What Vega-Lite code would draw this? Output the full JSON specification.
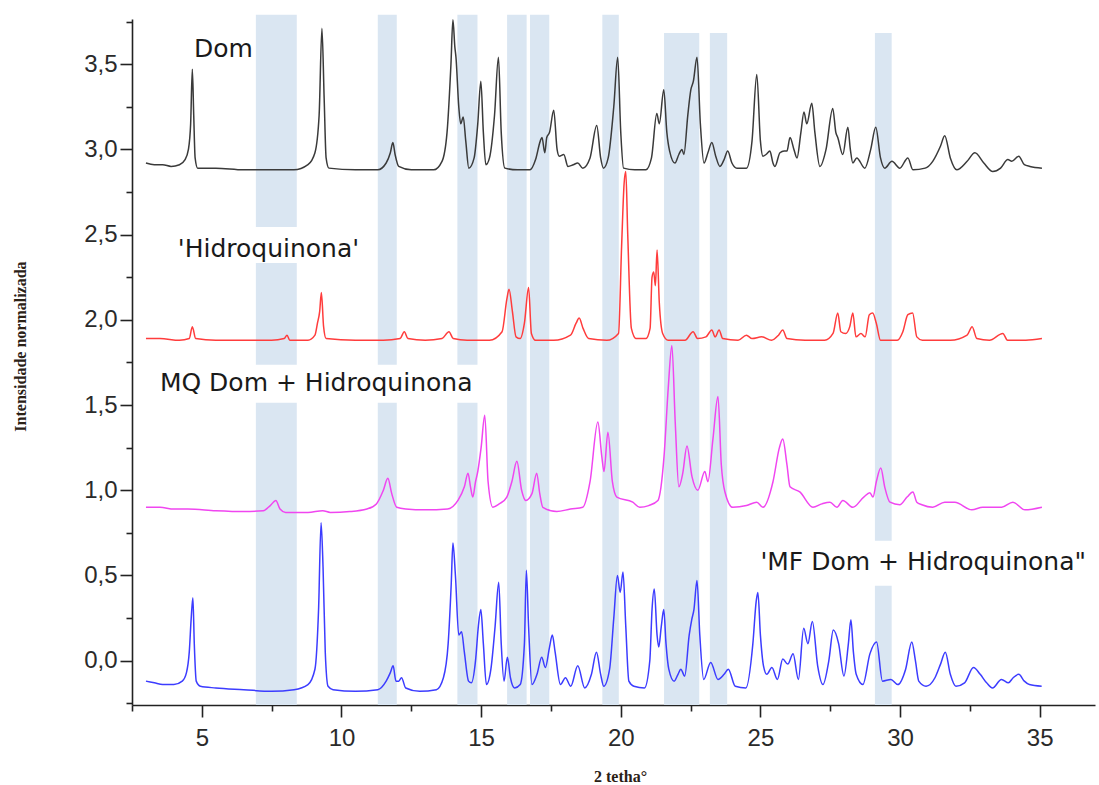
{
"$schema":"https://vega.github.io/schema/vega-lite/v6.json",
"width":963,"height":686,
"autosize":{"type":"none"},
"padding":{"left":132,"top":19,"right":4,"bottom":80},
"background":"white",
"config":{"view":{"stroke":null}},
"layer":[
{"data":{"values":[
{"x":6.935,"x2":8.40,"y":2.545,"y2":3.79},
{"x":6.935,"x2":8.40,"y":1.736,"y2":2.334},
{"x":6.935,"x2":8.40,"y":-0.26,"y2":1.513},
{"x":11.30,"x2":11.98,"y":1.736,"y2":3.79},
{"x":11.30,"x2":11.98,"y":-0.26,"y2":1.513},
{"x":14.15,"x2":14.87,"y":1.736,"y2":3.79},
{"x":14.15,"x2":14.87,"y":-0.26,"y2":1.513},
{"x":15.93,"x2":16.63,"y":-0.26,"y2":3.79},
{"x":16.75,"x2":17.44,"y":-0.26,"y2":3.79},
{"x":19.34,"x2":19.93,"y":-0.26,"y2":3.79},
{"x":21.55,"x2":22.81,"y":-0.26,"y2":3.683},
{"x":23.19,"x2":23.81,"y":-0.26,"y2":3.683},
{"x":29.10,"x2":29.70,"y":0.704,"y2":3.683},
{"x":29.10,"x2":29.70,"y":-0.26,"y2":0.44}
]},
"mark":{"type":"rect","color":"#dae6f2","opacity":1},
"encoding":{
"x":{"field":"x","type":"quantitative","scale":{"domain":[2.5,36.98],"nice":false,"zero":false},
"axis":{"title":"2 tetha°","values":[2.5,5,7.5,10,12.5,15,17.5,20,22.5,25,27.5,30,32.5,35],
"labelExpr":"datum.value % 5 == 0 ? format(datum.value,'d') : ''",
"tickSize":{"condition":{"test":"datum.value % 5 == 0","value":12},"value":6},
"grid":false,"domainColor":"#222222","domainWidth":1.6,"tickColor":"#222222","tickWidth":1.6,
"labelFont":"Liberation Sans","labelFontSize":24,"labelColor":"#2a2a2a","labelPadding":9,"labelFlush":false,"labelOverlap":false,
"titleFont":"Liberation Serif","titleFontWeight":"bold","titleFontSize":16,"titleColor":"#2b2116",
"titleX":488,"titleY":76,"titleBaseline":"alphabetic","titleAlign":"center"}},
"x2":{"field":"x2"},
"y":{"field":"y","type":"quantitative","scale":{"domain":[-0.26,3.765],"nice":false,"zero":false},
"axis":{"title":"Intensidade normalizada","values":[-0.25,0,0.25,0.5,0.75,1,1.25,1.5,1.75,2,2.25,2.5,2.75,3,3.25,3.5,3.75],
"labelExpr":"abs(datum.value*2 - round(datum.value*2)) < 0.01 ? replace(format(datum.value,'.1f'),'.',',') : ''",
"tickSize":{"condition":{"test":"abs(datum.value*2 - round(datum.value*2)) < 0.01","value":12},"value":6},
"grid":false,"domainColor":"#222222","domainWidth":1.6,"tickColor":"#222222","tickWidth":1.6,
"labelFont":"Liberation Sans","labelFontSize":24,"labelColor":"#2a2a2a","labelPadding":3,"labelFlush":false,"labelOverlap":false,
"titleFont":"Liberation Serif","titleFontWeight":"bold","titleFontSize":16,"titleColor":"#2b2116",
"titleX":-112,"titleY":327,"titleAngle":270,"titleBaseline":"middle","titleAlign":"center"}},
"y2":{"field":"y2"}
}},
{"data":{"values":[
{"s":"Dom","x":3.00,"y":2.92},{"s":"Dom","x":3.3,"y":2.91},{"s":"Dom","x":3.6,"y":2.91},{"s":"Dom","x":3.9,"y":2.90},{"s":"Dom","x":4.2,"y":2.91},{"s":"Dom","x":4.4,"y":2.94},{"s":"Dom","x":4.52,"y":3.00},{"s":"Dom","x":4.60,"y":3.15},{"s":"Dom","x":4.66,"y":3.47},{"s":"Dom","x":4.71,"y":3.20},{"s":"Dom","x":4.76,"y":2.95},{"s":"Dom","x":4.85,"y":2.89},{"s":"Dom","x":5.5,"y":2.89},{"s":"Dom","x":6.5,"y":2.88},{"s":"Dom","x":7.5,"y":2.88},{"s":"Dom","x":8.3,"y":2.88},{"s":"Dom","x":8.8,"y":2.91},{"s":"Dom","x":9.05,"y":2.98},{"s":"Dom","x":9.20,"y":3.20},{"s":"Dom","x":9.30,"y":3.71},{"s":"Dom","x":9.38,"y":3.30},{"s":"Dom","x":9.45,"y":2.95},{"s":"Dom","x":9.55,"y":2.89},{"s":"Dom","x":10.5,"y":2.88},{"s":"Dom","x":11.3,"y":2.88},{"s":"Dom","x":11.6,"y":2.92},{"s":"Dom","x":11.75,"y":2.98},{"s":"Dom","x":11.84,"y":3.04},{"s":"Dom","x":11.92,"y":2.97},{"s":"Dom","x":12.05,"y":2.90},{"s":"Dom","x":12.5,"y":2.88},{"s":"Dom","x":13.3,"y":2.88},{"s":"Dom","x":13.6,"y":2.93},{"s":"Dom","x":13.78,"y":3.10},{"s":"Dom","x":13.92,"y":3.50},{"s":"Dom","x":13.99,"y":3.76},{"s":"Dom","x":14.06,"y":3.60},{"s":"Dom","x":14.10,"y":3.54},{"s":"Dom","x":14.20,"y":3.25},{"s":"Dom","x":14.27,"y":3.15},{"s":"Dom","x":14.36,"y":3.19},{"s":"Dom","x":14.45,"y":3.05},{"s":"Dom","x":14.56,"y":2.89},{"s":"Dom","x":14.75,"y":2.95},{"s":"Dom","x":14.88,"y":3.15},{"s":"Dom","x":14.99,"y":3.40},{"s":"Dom","x":15.08,"y":3.10},{"s":"Dom","x":15.17,"y":2.91},{"s":"Dom","x":15.30,"y":2.95},{"s":"Dom","x":15.48,"y":3.20},{"s":"Dom","x":15.62,"y":3.54},{"s":"Dom","x":15.72,"y":3.10},{"s":"Dom","x":15.85,"y":2.89},{"s":"Dom","x":16.3,"y":2.88},{"s":"Dom","x":16.75,"y":2.88},{"s":"Dom","x":16.95,"y":2.94},{"s":"Dom","x":17.12,"y":3.05},{"s":"Dom","x":17.18,"y":3.07},{"s":"Dom","x":17.28,"y":2.98},{"s":"Dom","x":17.35,"y":3.07},{"s":"Dom","x":17.45,"y":3.10},{"s":"Dom","x":17.60,"y":3.23},{"s":"Dom","x":17.72,"y":3.00},{"s":"Dom","x":17.80,"y":2.96},{"s":"Dom","x":17.96,"y":2.97},{"s":"Dom","x":18.11,"y":2.90},{"s":"Dom","x":18.30,"y":2.91},{"s":"Dom","x":18.46,"y":2.92},{"s":"Dom","x":18.64,"y":2.89},{"s":"Dom","x":18.90,"y":2.95},{"s":"Dom","x":19.14,"y":3.14},{"s":"Dom","x":19.28,"y":2.95},{"s":"Dom","x":19.38,"y":2.89},{"s":"Dom","x":19.55,"y":2.95},{"s":"Dom","x":19.75,"y":3.25},{"s":"Dom","x":19.89,"y":3.54},{"s":"Dom","x":20.00,"y":3.10},{"s":"Dom","x":20.10,"y":2.89},{"s":"Dom","x":20.5,"y":2.88},{"s":"Dom","x":20.9,"y":2.88},{"s":"Dom","x":21.1,"y":2.95},{"s":"Dom","x":21.29,"y":3.21},{"s":"Dom","x":21.38,"y":3.15},{"s":"Dom","x":21.54,"y":3.35},{"s":"Dom","x":21.65,"y":3.10},{"s":"Dom","x":21.75,"y":2.99},{"s":"Dom","x":21.94,"y":2.92},{"s":"Dom","x":22.08,"y":2.97},{"s":"Dom","x":22.19,"y":3.00},{"s":"Dom","x":22.26,"y":2.97},{"s":"Dom","x":22.40,"y":3.20},{"s":"Dom","x":22.51,"y":3.35},{"s":"Dom","x":22.60,"y":3.40},{"s":"Dom","x":22.73,"y":3.54},{"s":"Dom","x":22.85,"y":3.15},{"s":"Dom","x":22.98,"y":2.92},{"s":"Dom","x":23.12,"y":2.98},{"s":"Dom","x":23.26,"y":3.04},{"s":"Dom","x":23.40,"y":2.96},{"s":"Dom","x":23.55,"y":2.90},{"s":"Dom","x":23.70,"y":2.94},{"s":"Dom","x":23.83,"y":2.99},{"s":"Dom","x":23.98,"y":2.92},{"s":"Dom","x":24.16,"y":2.89},{"s":"Dom","x":24.5,"y":2.89},{"s":"Dom","x":24.70,"y":3.05},{"s":"Dom","x":24.87,"y":3.44},{"s":"Dom","x":25.00,"y":3.05},{"s":"Dom","x":25.09,"y":2.96},{"s":"Dom","x":25.20,"y":2.97},{"s":"Dom","x":25.34,"y":2.99},{"s":"Dom","x":25.45,"y":2.92},{"s":"Dom","x":25.52,"y":2.90},{"s":"Dom","x":25.70,"y":2.98},{"s":"Dom","x":25.85,"y":2.99},{"s":"Dom","x":25.95,"y":2.99},{"s":"Dom","x":26.06,"y":3.07},{"s":"Dom","x":26.20,"y":3.00},{"s":"Dom","x":26.31,"y":2.95},{"s":"Dom","x":26.45,"y":3.10},{"s":"Dom","x":26.56,"y":3.22},{"s":"Dom","x":26.66,"y":3.15},{"s":"Dom","x":26.84,"y":3.27},{"s":"Dom","x":26.95,"y":3.10},{"s":"Dom","x":27.13,"y":2.90},{"s":"Dom","x":27.35,"y":3.00},{"s":"Dom","x":27.59,"y":3.24},{"s":"Dom","x":27.70,"y":3.10},{"s":"Dom","x":27.77,"y":3.07},{"s":"Dom","x":27.95,"y":2.97},{"s":"Dom","x":28.13,"y":3.13},{"s":"Dom","x":28.22,"y":3.00},{"s":"Dom","x":28.31,"y":2.92},{"s":"Dom","x":28.45,"y":2.95},{"s":"Dom","x":28.74,"y":2.89},{"s":"Dom","x":28.95,"y":3.00},{"s":"Dom","x":29.13,"y":3.13},{"s":"Dom","x":29.30,"y":2.95},{"s":"Dom","x":29.45,"y":2.89},{"s":"Dom","x":29.71,"y":2.93},{"s":"Dom","x":29.99,"y":2.89},{"s":"Dom","x":30.28,"y":2.95},{"s":"Dom","x":30.46,"y":2.88},{"s":"Dom","x":30.9,"y":2.89},{"s":"Dom","x":31.17,"y":2.93},{"s":"Dom","x":31.45,"y":3.02},{"s":"Dom","x":31.60,"y":3.08},{"s":"Dom","x":31.80,"y":2.95},{"s":"Dom","x":32.03,"y":2.88},{"s":"Dom","x":32.4,"y":2.93},{"s":"Dom","x":32.68,"y":2.98},{"s":"Dom","x":33.0,"y":2.92},{"s":"Dom","x":33.32,"y":2.87},{"s":"Dom","x":33.6,"y":2.89},{"s":"Dom","x":33.86,"y":2.94},{"s":"Dom","x":34.00,"y":2.93},{"s":"Dom","x":34.25,"y":2.96},{"s":"Dom","x":34.45,"y":2.91},{"s":"Dom","x":34.65,"y":2.90},{"s":"Dom","x":35.08,"y":2.89},
{"s":"HQ","x":3.00,"y":1.89},{"s":"HQ","x":3.5,"y":1.89},{"s":"HQ","x":4.2,"y":1.88},{"s":"HQ","x":4.55,"y":1.89},{"s":"HQ","x":4.66,"y":1.96},{"s":"HQ","x":4.78,"y":1.89},{"s":"HQ","x":5.5,"y":1.88},{"s":"HQ","x":6.5,"y":1.88},{"s":"HQ","x":7.5,"y":1.88},{"s":"HQ","x":7.95,"y":1.89},{"s":"HQ","x":8.05,"y":1.91},{"s":"HQ","x":8.15,"y":1.88},{"s":"HQ","x":8.8,"y":1.88},{"s":"HQ","x":9.05,"y":1.91},{"s":"HQ","x":9.14,"y":1.98},{"s":"HQ","x":9.22,"y":2.05},{"s":"HQ","x":9.28,"y":2.16},{"s":"HQ","x":9.36,"y":1.96},{"s":"HQ","x":9.45,"y":1.89},{"s":"HQ","x":10.5,"y":1.88},{"s":"HQ","x":11.5,"y":1.88},{"s":"HQ","x":12.1,"y":1.89},{"s":"HQ","x":12.25,"y":1.93},{"s":"HQ","x":12.38,"y":1.89},{"s":"HQ","x":13.0,"y":1.88},{"s":"HQ","x":13.6,"y":1.89},{"s":"HQ","x":13.85,"y":1.93},{"s":"HQ","x":14.0,"y":1.89},{"s":"HQ","x":14.5,"y":1.88},{"s":"HQ","x":15.3,"y":1.88},{"s":"HQ","x":15.75,"y":1.93},{"s":"HQ","x":15.92,"y":2.12},{"s":"HQ","x":16.00,"y":2.18},{"s":"HQ","x":16.12,"y":2.05},{"s":"HQ","x":16.25,"y":1.90},{"s":"HQ","x":16.40,"y":1.89},{"s":"HQ","x":16.55,"y":1.98},{"s":"HQ","x":16.70,"y":2.19},{"s":"HQ","x":16.80,"y":1.92},{"s":"HQ","x":16.95,"y":1.88},{"s":"HQ","x":17.6,"y":1.88},{"s":"HQ","x":18.2,"y":1.91},{"s":"HQ","x":18.40,"y":1.98},{"s":"HQ","x":18.51,"y":2.01},{"s":"HQ","x":18.65,"y":1.95},{"s":"HQ","x":18.85,"y":1.89},{"s":"HQ","x":19.5,"y":1.88},{"s":"HQ","x":19.92,"y":1.92},{"s":"HQ","x":20.03,"y":2.43},{"s":"HQ","x":20.12,"y":2.80},{"s":"HQ","x":20.18,"y":2.87},{"s":"HQ","x":20.25,"y":2.50},{"s":"HQ","x":20.38,"y":1.95},{"s":"HQ","x":20.55,"y":1.89},{"s":"HQ","x":20.9,"y":1.89},{"s":"HQ","x":21.05,"y":1.95},{"s":"HQ","x":21.12,"y":2.25},{"s":"HQ","x":21.18,"y":2.28},{"s":"HQ","x":21.24,"y":2.20},{"s":"HQ","x":21.30,"y":2.41},{"s":"HQ","x":21.38,"y":2.10},{"s":"HQ","x":21.50,"y":1.92},{"s":"HQ","x":21.70,"y":1.88},{"s":"HQ","x":22.3,"y":1.88},{"s":"HQ","x":22.59,"y":1.93},{"s":"HQ","x":22.75,"y":1.89},{"s":"HQ","x":23.05,"y":1.90},{"s":"HQ","x":23.26,"y":1.94},{"s":"HQ","x":23.38,"y":1.90},{"s":"HQ","x":23.52,"y":1.94},{"s":"HQ","x":23.65,"y":1.89},{"s":"HQ","x":24.2,"y":1.88},{"s":"HQ","x":24.50,"y":1.91},{"s":"HQ","x":24.70,"y":1.89},{"s":"HQ","x":25.05,"y":1.90},{"s":"HQ","x":25.4,"y":1.88},{"s":"HQ","x":25.65,"y":1.91},{"s":"HQ","x":25.80,"y":1.94},{"s":"HQ","x":25.95,"y":1.89},{"s":"HQ","x":26.6,"y":1.88},{"s":"HQ","x":27.3,"y":1.88},{"s":"HQ","x":27.60,"y":1.92},{"s":"HQ","x":27.77,"y":2.04},{"s":"HQ","x":27.88,"y":1.93},{"s":"HQ","x":28.05,"y":1.92},{"s":"HQ","x":28.20,"y":1.96},{"s":"HQ","x":28.31,"y":2.04},{"s":"HQ","x":28.42,"y":1.90},{"s":"HQ","x":28.60,"y":1.92},{"s":"HQ","x":28.75,"y":1.90},{"s":"HQ","x":28.90,"y":2.03},{"s":"HQ","x":29.02,"y":2.04},{"s":"HQ","x":29.15,"y":1.98},{"s":"HQ","x":29.30,"y":1.88},{"s":"HQ","x":29.9,"y":1.88},{"s":"HQ","x":30.10,"y":1.93},{"s":"HQ","x":30.28,"y":2.03},{"s":"HQ","x":30.45,"y":2.04},{"s":"HQ","x":30.60,"y":1.90},{"s":"HQ","x":30.8,"y":1.88},{"s":"HQ","x":31.8,"y":1.88},{"s":"HQ","x":32.40,"y":1.91},{"s":"HQ","x":32.58,"y":1.96},{"s":"HQ","x":32.75,"y":1.89},{"s":"HQ","x":33.2,"y":1.88},{"s":"HQ","x":33.68,"y":1.92},{"s":"HQ","x":33.85,"y":1.88},{"s":"HQ","x":34.5,"y":1.88},{"s":"HQ","x":35.08,"y":1.89},
{"s":"MQ","x":3.00,"y":0.90},{"s":"MQ","x":3.5,"y":0.90},{"s":"MQ","x":4.0,"y":0.89},{"s":"MQ","x":4.5,"y":0.89},{"s":"MQ","x":5.5,"y":0.88},{"s":"MQ","x":6.5,"y":0.875},{"s":"MQ","x":7.2,"y":0.88},{"s":"MQ","x":7.45,"y":0.91},{"s":"MQ","x":7.65,"y":0.94},{"s":"MQ","x":7.80,"y":0.89},{"s":"MQ","x":8.0,"y":0.87},{"s":"MQ","x":8.8,"y":0.87},{"s":"MQ","x":9.33,"y":0.88},{"s":"MQ","x":9.6,"y":0.87},{"s":"MQ","x":10.3,"y":0.875},{"s":"MQ","x":10.91,"y":0.89},{"s":"MQ","x":11.25,"y":0.92},{"s":"MQ","x":11.50,"y":1.00},{"s":"MQ","x":11.66,"y":1.07},{"s":"MQ","x":11.80,"y":0.98},{"s":"MQ","x":11.98,"y":0.90},{"s":"MQ","x":12.3,"y":0.89},{"s":"MQ","x":13.0,"y":0.885},{"s":"MQ","x":13.8,"y":0.89},{"s":"MQ","x":14.17,"y":0.94},{"s":"MQ","x":14.40,"y":1.02},{"s":"MQ","x":14.53,"y":1.10},{"s":"MQ","x":14.62,"y":1.02},{"s":"MQ","x":14.70,"y":0.96},{"s":"MQ","x":14.80,"y":1.05},{"s":"MQ","x":14.88,"y":1.11},{"s":"MQ","x":15.00,"y":1.25},{"s":"MQ","x":15.13,"y":1.44},{"s":"MQ","x":15.25,"y":1.05},{"s":"MQ","x":15.42,"y":0.90},{"s":"MQ","x":15.65,"y":0.92},{"s":"MQ","x":15.92,"y":0.96},{"s":"MQ","x":16.10,"y":1.05},{"s":"MQ","x":16.28,"y":1.17},{"s":"MQ","x":16.45,"y":1.00},{"s":"MQ","x":16.60,"y":0.94},{"s":"MQ","x":16.82,"y":0.98},{"s":"MQ","x":16.99,"y":1.10},{"s":"MQ","x":17.10,"y":0.98},{"s":"MQ","x":17.21,"y":0.90},{"s":"MQ","x":17.71,"y":0.875},{"s":"MQ","x":18.2,"y":0.89},{"s":"MQ","x":18.64,"y":0.90},{"s":"MQ","x":18.90,"y":1.05},{"s":"MQ","x":19.18,"y":1.40},{"s":"MQ","x":19.32,"y":1.20},{"s":"MQ","x":19.40,"y":1.11},{"s":"MQ","x":19.54,"y":1.34},{"s":"MQ","x":19.70,"y":1.05},{"s":"MQ","x":19.86,"y":0.96},{"s":"MQ","x":20.43,"y":0.93},{"s":"MQ","x":20.68,"y":0.90},{"s":"MQ","x":21.0,"y":0.91},{"s":"MQ","x":21.33,"y":0.94},{"s":"MQ","x":21.55,"y":1.20},{"s":"MQ","x":21.70,"y":1.60},{"s":"MQ","x":21.83,"y":1.85},{"s":"MQ","x":21.95,"y":1.40},{"s":"MQ","x":22.08,"y":1.02},{"s":"MQ","x":22.22,"y":1.10},{"s":"MQ","x":22.37,"y":1.26},{"s":"MQ","x":22.55,"y":1.08},{"s":"MQ","x":22.76,"y":1.00},{"s":"MQ","x":23.01,"y":1.11},{"s":"MQ","x":23.12,"y":1.05},{"s":"MQ","x":23.30,"y":1.30},{"s":"MQ","x":23.48,"y":1.55},{"s":"MQ","x":23.60,"y":1.15},{"s":"MQ","x":23.73,"y":0.99},{"s":"MQ","x":24.01,"y":0.90},{"s":"MQ","x":24.50,"y":0.91},{"s":"MQ","x":24.87,"y":0.93},{"s":"MQ","x":25.09,"y":0.90},{"s":"MQ","x":25.45,"y":1.05},{"s":"MQ","x":25.68,"y":1.25},{"s":"MQ","x":25.80,"y":1.30},{"s":"MQ","x":25.95,"y":1.15},{"s":"MQ","x":26.06,"y":1.02},{"s":"MQ","x":26.41,"y":0.99},{"s":"MQ","x":26.88,"y":0.90},{"s":"MQ","x":27.20,"y":0.92},{"s":"MQ","x":27.49,"y":0.93},{"s":"MQ","x":27.74,"y":0.90},{"s":"MQ","x":27.95,"y":0.94},{"s":"MQ","x":28.31,"y":0.90},{"s":"MQ","x":28.70,"y":0.96},{"s":"MQ","x":28.92,"y":0.985},{"s":"MQ","x":29.03,"y":0.96},{"s":"MQ","x":29.15,"y":1.05},{"s":"MQ","x":29.31,"y":1.13},{"s":"MQ","x":29.45,"y":1.02},{"s":"MQ","x":29.64,"y":0.93},{"s":"MQ","x":29.99,"y":0.915},{"s":"MQ","x":30.25,"y":0.96},{"s":"MQ","x":30.46,"y":0.99},{"s":"MQ","x":30.60,"y":0.93},{"s":"MQ","x":30.78,"y":0.915},{"s":"MQ","x":31.17,"y":0.90},{"s":"MQ","x":31.60,"y":0.93},{"s":"MQ","x":31.96,"y":0.93},{"s":"MQ","x":32.57,"y":0.885},{"s":"MQ","x":32.96,"y":0.90},{"s":"MQ","x":33.64,"y":0.90},{"s":"MQ","x":34.04,"y":0.93},{"s":"MQ","x":34.47,"y":0.885},{"s":"MQ","x":35.08,"y":0.90},
{"s":"MF","x":3.00,"y":-0.12},{"s":"MF","x":3.3,"y":-0.13},{"s":"MF","x":3.6,"y":-0.14},{"s":"MF","x":4.0,"y":-0.14},{"s":"MF","x":4.3,"y":-0.12},{"s":"MF","x":4.45,"y":-0.07},{"s":"MF","x":4.55,"y":0.05},{"s":"MF","x":4.62,"y":0.25},{"s":"MF","x":4.68,"y":0.37},{"s":"MF","x":4.73,"y":0.10},{"s":"MF","x":4.80,"y":-0.12},{"s":"MF","x":4.95,"y":-0.15},{"s":"MF","x":5.5,"y":-0.16},{"s":"MF","x":6.5,"y":-0.17},{"s":"MF","x":7.5,"y":-0.18},{"s":"MF","x":8.3,"y":-0.17},{"s":"MF","x":8.8,"y":-0.14},{"s":"MF","x":9.05,"y":-0.05},{"s":"MF","x":9.18,"y":0.30},{"s":"MF","x":9.27,"y":0.81},{"s":"MF","x":9.34,"y":0.55},{"s":"MF","x":9.42,"y":0.05},{"s":"MF","x":9.52,"y":-0.15},{"s":"MF","x":9.7,"y":-0.17},{"s":"MF","x":10.5,"y":-0.18},{"s":"MF","x":11.3,"y":-0.17},{"s":"MF","x":11.6,"y":-0.12},{"s":"MF","x":11.75,"y":-0.07},{"s":"MF","x":11.85,"y":-0.03},{"s":"MF","x":11.95,"y":-0.12},{"s":"MF","x":12.05,"y":-0.12},{"s":"MF","x":12.15,"y":-0.10},{"s":"MF","x":12.3,"y":-0.16},{"s":"MF","x":12.8,"y":-0.18},{"s":"MF","x":13.4,"y":-0.17},{"s":"MF","x":13.65,"y":-0.10},{"s":"MF","x":13.82,"y":0.10},{"s":"MF","x":13.93,"y":0.45},{"s":"MF","x":13.99,"y":0.69},{"s":"MF","x":14.08,"y":0.50},{"s":"MF","x":14.20,"y":0.15},{"s":"MF","x":14.30,"y":0.17},{"s":"MF","x":14.40,"y":0.05},{"s":"MF","x":14.55,"y":-0.12},{"s":"MF","x":14.65,"y":-0.13},{"s":"MF","x":14.80,"y":0.00},{"s":"MF","x":14.90,"y":0.20},{"s":"MF","x":14.99,"y":0.30},{"s":"MF","x":15.08,"y":0.10},{"s":"MF","x":15.19,"y":-0.14},{"s":"MF","x":15.35,"y":-0.05},{"s":"MF","x":15.50,"y":0.20},{"s":"MF","x":15.63,"y":0.46},{"s":"MF","x":15.72,"y":0.10},{"s":"MF","x":15.82,"y":-0.12},{"s":"MF","x":15.94,"y":0.02},{"s":"MF","x":16.05,"y":-0.10},{"s":"MF","x":16.20,"y":-0.16},{"s":"MF","x":16.40,"y":-0.14},{"s":"MF","x":16.55,"y":0.10},{"s":"MF","x":16.62,"y":0.53},{"s":"MF","x":16.70,"y":0.20},{"s":"MF","x":16.82,"y":-0.14},{"s":"MF","x":17.00,"y":-0.08},{"s":"MF","x":17.17,"y":0.02},{"s":"MF","x":17.30,"y":-0.04},{"s":"MF","x":17.45,"y":0.08},{"s":"MF","x":17.55,"y":0.15},{"s":"MF","x":17.65,"y":0.05},{"s":"MF","x":17.84,"y":-0.14},{"s":"MF","x":18.02,"y":-0.10},{"s":"MF","x":18.21,"y":-0.15},{"s":"MF","x":18.46,"y":-0.03},{"s":"MF","x":18.71,"y":-0.16},{"s":"MF","x":18.95,"y":-0.08},{"s":"MF","x":19.13,"y":0.05},{"s":"MF","x":19.28,"y":-0.08},{"s":"MF","x":19.39,"y":-0.15},{"s":"MF","x":19.60,"y":-0.05},{"s":"MF","x":19.75,"y":0.25},{"s":"MF","x":19.88,"y":0.50},{"s":"MF","x":19.98,"y":0.40},{"s":"MF","x":20.08,"y":0.52},{"s":"MF","x":20.18,"y":0.20},{"s":"MF","x":20.29,"y":-0.12},{"s":"MF","x":20.47,"y":-0.15},{"s":"MF","x":20.85,"y":-0.16},{"s":"MF","x":21.04,"y":0.00},{"s":"MF","x":21.12,"y":0.30},{"s":"MF","x":21.20,"y":0.42},{"s":"MF","x":21.30,"y":0.15},{"s":"MF","x":21.36,"y":0.08},{"s":"MF","x":21.45,"y":0.20},{"s":"MF","x":21.54,"y":0.30},{"s":"MF","x":21.62,"y":0.10},{"s":"MF","x":21.72,"y":-0.05},{"s":"MF","x":21.91,"y":-0.12},{"s":"MF","x":22.05,"y":-0.08},{"s":"MF","x":22.15,"y":-0.05},{"s":"MF","x":22.29,"y":-0.09},{"s":"MF","x":22.45,"y":0.15},{"s":"MF","x":22.54,"y":0.24},{"s":"MF","x":22.62,"y":0.30},{"s":"MF","x":22.73,"y":0.47},{"s":"MF","x":22.83,"y":0.15},{"s":"MF","x":22.97,"y":-0.11},{"s":"MF","x":23.22,"y":-0.01},{"s":"MF","x":23.48,"y":-0.11},{"s":"MF","x":23.70,"y":-0.08},{"s":"MF","x":23.85,"y":-0.05},{"s":"MF","x":24.10,"y":-0.15},{"s":"MF","x":24.48,"y":-0.16},{"s":"MF","x":24.73,"y":0.10},{"s":"MF","x":24.85,"y":0.35},{"s":"MF","x":24.91,"y":0.40},{"s":"MF","x":25.00,"y":0.15},{"s":"MF","x":25.11,"y":-0.03},{"s":"MF","x":25.23,"y":-0.08},{"s":"MF","x":25.41,"y":-0.04},{"s":"MF","x":25.61,"y":-0.11},{"s":"MF","x":25.80,"y":0.01},{"s":"MF","x":25.98,"y":-0.02},{"s":"MF","x":26.17,"y":0.04},{"s":"MF","x":26.36,"y":-0.11},{"s":"MF","x":26.55,"y":0.19},{"s":"MF","x":26.70,"y":0.10},{"s":"MF","x":26.86,"y":0.23},{"s":"MF","x":27.05,"y":-0.03},{"s":"MF","x":27.24,"y":-0.14},{"s":"MF","x":27.45,"y":0.00},{"s":"MF","x":27.61,"y":0.18},{"s":"MF","x":27.80,"y":0.10},{"s":"MF","x":27.99,"y":-0.09},{"s":"MF","x":28.15,"y":0.10},{"s":"MF","x":28.24,"y":0.24},{"s":"MF","x":28.33,"y":0.05},{"s":"MF","x":28.43,"y":-0.08},{"s":"MF","x":28.67,"y":-0.14},{"s":"MF","x":28.92,"y":0.04},{"s":"MF","x":29.16,"y":0.11},{"s":"MF","x":29.37,"y":-0.12},{"s":"MF","x":29.67,"y":-0.11},{"s":"MF","x":29.92,"y":-0.14},{"s":"MF","x":30.20,"y":-0.05},{"s":"MF","x":30.42,"y":0.11},{"s":"MF","x":30.55,"y":0.00},{"s":"MF","x":30.67,"y":-0.12},{"s":"MF","x":30.93,"y":-0.15},{"s":"MF","x":31.25,"y":-0.10},{"s":"MF","x":31.45,"y":-0.02},{"s":"MF","x":31.62,"y":0.05},{"s":"MF","x":31.80,"y":-0.08},{"s":"MF","x":32.00,"y":-0.15},{"s":"MF","x":32.31,"y":-0.13},{"s":"MF","x":32.63,"y":-0.04},{"s":"MF","x":32.87,"y":-0.08},{"s":"MF","x":33.10,"y":-0.13},{"s":"MF","x":33.31,"y":-0.16},{"s":"MF","x":33.63,"y":-0.11},{"s":"MF","x":33.88,"y":-0.13},{"s":"MF","x":34.05,"y":-0.10},{"s":"MF","x":34.25,"y":-0.08},{"s":"MF","x":34.45,"y":-0.12},{"s":"MF","x":34.63,"y":-0.14},{"s":"MF","x":35.07,"y":-0.15}
]},
"mark":{"type":"line","strokeWidth":1.5,"interpolate":"monotone"},
"encoding":{
"x":{"field":"x","type":"quantitative"},
"y":{"field":"y","type":"quantitative"},
"color":{"field":"s","type":"nominal","scale":{"domain":["Dom","HQ","MQ","MF"],"range":["#3a3a3a","#ff3c3c","#f046f0","#3c3cff"]},"legend":null}
}},
{"data":{"values":[
{"t":"Dom","x":4.72,"y":3.54},
{"t":"'Hidroquinona'","x":4.14,"y":2.37},
{"t":"MQ Dom + Hidroquinona","x":3.50,"y":1.584},
{"t":"'MF Dom + Hidroquinona\"","x":25.0,"y":0.534}
]},
"mark":{"type":"text","align":"left","baseline":"alphabetic","font":"DejaVu Sans","fontSize":25,"color":"#1a1a1a"},
"encoding":{
"x":{"field":"x","type":"quantitative"},
"y":{"field":"y","type":"quantitative"},
"text":{"field":"t"}
}}
]
}
